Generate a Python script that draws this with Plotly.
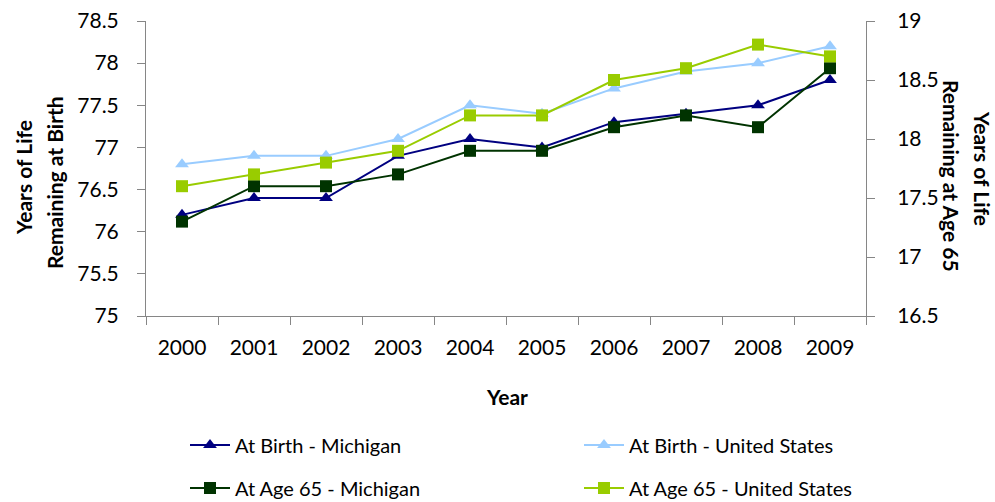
import plotly.graph_objects as go

years = ["2000", "2001", "2002", "2003", "2004", "2005", "2006", "2007", "2008", "2009"]
birth_mi = [76.2, 76.4, 76.4, 76.9, 77.1, 77.0, 77.3, 77.4, 77.5, 77.8]
birth_us = [76.8, 76.9, 76.9, 77.1, 77.5, 77.4, 77.7, 77.9, 78.0, 78.2]
age65_mi = [17.3, 17.6, 17.6, 17.7, 17.9, 17.9, 18.1, 18.2, 18.1, 18.6]
age65_us = [17.6, 17.7, 17.8, 17.9, 18.2, 18.2, 18.5, 18.6, 18.8, 18.7]

FONT = "Lato"
W, H = 995, 502
PL, PR, PT, PB = 146, 866, 21, 316  # plot area in pixels

fig = go.Figure()
fig.add_trace(go.Scatter(x=years, y=birth_mi, name="At Birth - Michigan", mode="lines+markers",
                         line=dict(color="#000080", width=2), marker=dict(symbol="triangle-up", size=12),
                         legend="legend"))
fig.add_trace(go.Scatter(x=years, y=birth_us, name="At Birth - United States", mode="lines+markers",
                         line=dict(color="#99CCFF", width=2), marker=dict(symbol="triangle-up", size=12),
                         legend="legend2"))
fig.add_trace(go.Scatter(x=years, y=age65_mi, name="At Age 65 - Michigan", mode="lines+markers",
                         line=dict(color="#003300", width=2), marker=dict(symbol="square", size=12),
                         yaxis="y2", legend="legend3"))
fig.add_trace(go.Scatter(x=years, y=age65_us, name="At Age 65 - United States", mode="lines+markers",
                         line=dict(color="#99CC00", width=2), marker=dict(symbol="square", size=12),
                         yaxis="y2", legend="legend4"))

axis_common = dict(showline=True, linecolor="#868686", linewidth=1, ticks="outside", ticklen=8,
                   tickcolor="#868686", showgrid=False, zeroline=False, ticklabeloverflow="allow",
                   tickfont=dict(family=FONT, size=21, color="#000"))


def leg(px, py):
    return dict(orientation="h", font=dict(family=FONT, size=20, color="#000"),
                bgcolor="rgba(0,0,0,0)", xref="container", yref="container",
                xanchor="left", yanchor="middle", itemwidth=40,
                x=px / W, y=1 - py / H)


def title(text, px, py, angle):
    return dict(text="<b>" + text + "</b>", xref="paper", yref="paper",
                x=(px - PL) / (PR - PL), y=(PB - py) / (PB - PT),
                xanchor="center", yanchor="middle", showarrow=False, textangle=angle,
                font=dict(family=FONT, size=21, color="#000"))


fig.update_layout(
    width=W, height=H, showlegend=True,
    margin=dict(l=PL, r=W - PR, t=PT, b=H - PB, autoexpand=False),
    plot_bgcolor="white", paper_bgcolor="white",
    xaxis=dict(**axis_common, type="category", tickson="boundaries", range=[-0.5, 9.5],
               ticklabelstandoff=13),
    yaxis=dict(**axis_common, range=[75, 78.5], dtick=0.5, ticklabelstandoff=14),
    yaxis2=dict(**axis_common, range=[16.5, 19], dtick=0.5, overlaying="y", side="right",
                ticklabelstandoff=18),
    legend=leg(185, 445),
    legend2=leg(579, 445),
    legend3=leg(185, 488),
    legend4=leg(579, 488),
    annotations=[
        title("Year", 507, 397, 0),
        title("Years of Life", 23, 178, -90),
        title("Remaining at Birth", 54, 183, -90),
        title("Years of Life", 983, 168, 90),
        title("Remaining at Age 65", 951, 176, 90),
    ],
)

fig.write_html("out.html", config={"displayModeBar": False},
               post_script="document.body.style.margin='0';")
